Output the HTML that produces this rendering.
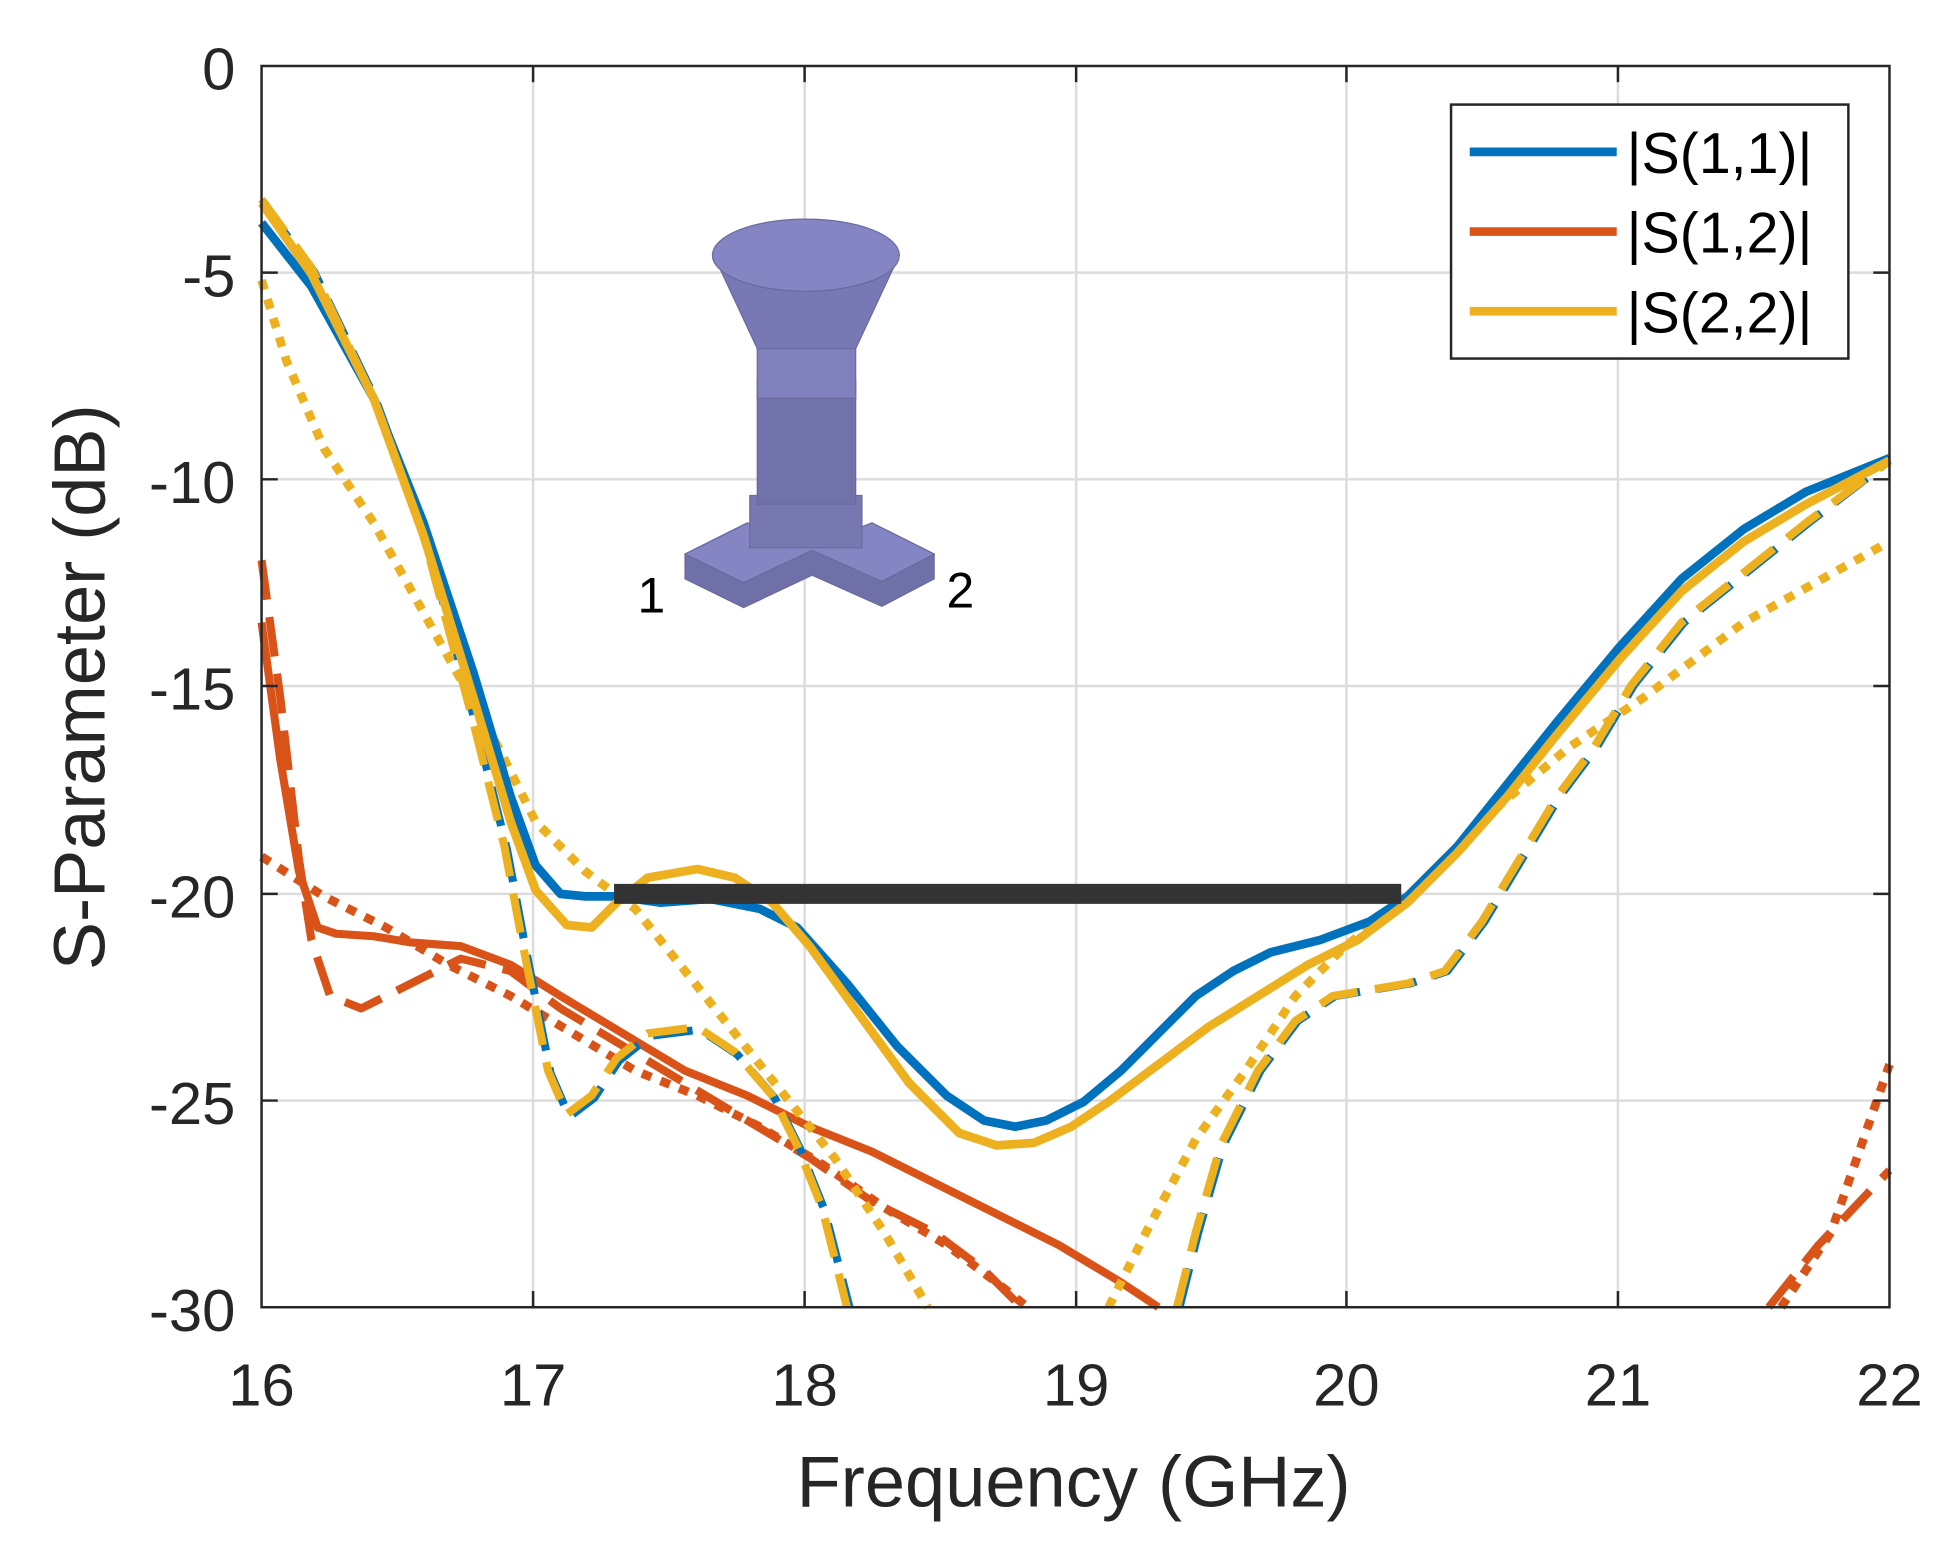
<!DOCTYPE html>
<html><head><meta charset="utf-8"><style>html,body{margin:0;padding:0;background:#fff}svg{display:block}</style></head>
<body>
<svg width="1953" height="1550" viewBox="0 0 1568 1245" preserveAspectRatio="none" xmlns="http://www.w3.org/2000/svg" font-family="Liberation Sans, sans-serif">
<rect width="1568" height="1245" fill="#fff"/>
<g stroke="#dcdcdc" stroke-width="2">
<line x1="428" y1="53" x2="428" y2="1050"/><line x1="646" y1="53" x2="646" y2="1050"/><line x1="864" y1="53" x2="864" y2="1050"/><line x1="1081" y1="53" x2="1081" y2="1050"/><line x1="1299" y1="53" x2="1299" y2="1050"/>
<line x1="210" y1="219" x2="1517" y2="219"/><line x1="210" y1="385" x2="1517" y2="385"/><line x1="210" y1="551" x2="1517" y2="551"/><line x1="210" y1="718" x2="1517" y2="718"/><line x1="210" y1="884" x2="1517" y2="884"/>
</g>
<g fill="none" stroke-linejoin="round" stroke-linecap="butt">
<polyline stroke="#d95319" stroke-width="7" stroke-dasharray="8,8" points="210,688 260,720 310,745 360,775 410,800 460,830 510,860 560,880 610,905 660,935 710,970 760,1000 800,1030 825,1050"/>
<polyline stroke="#d95319" stroke-width="7" stroke-dasharray="8,8" points="1430,1050 1470,990 1517,855"/>
<polyline stroke="#d95319" stroke-width="6.5" stroke-dasharray="32,14" points="210,450 225,560 240,690 250,755 265,800 290,810 330,790 370,770 410,780 450,810 500,840 550,870 600,900 650,930 700,965 750,990 790,1020 820,1050"/>
<polyline stroke="#d95319" stroke-width="6.5" stroke-dasharray="32,14" points="1420,1050 1460,1000 1517,940"/>
<polyline stroke="#d95319" stroke-width="6.5" points="210,500 225,610 240,700 255,745 270,750 300,752 330,757 370,760 410,775 450,800 500,830 550,860 600,880 650,905 700,925 750,950 800,975 850,1000 900,1030 930,1050"/>
<polyline stroke="#0072bd" stroke-width="6.5" stroke-dasharray="32,14" points="212,165 252,218 302,322 342,432 382,582 407,682 422,762 442,862 457,897 477,882 497,852 522,832 562,827 592,847 622,882 642,922 662,972 682,1050"/>
<polyline stroke="#edb120" stroke-width="6.5" stroke-dasharray="32,14" points="210,160 250,215 300,320 340,430 380,580 405,680 420,760 440,860 455,895 475,880 495,850 520,830 560,825 590,845 620,880 640,920 660,970 680,1050"/>
<polyline stroke="#0072bd" stroke-width="6.5" stroke-dasharray="32,14" points="947,1050 962,990 982,920 1012,860 1042,820 1072,800 1102,795 1132,790 1162,780 1192,740 1222,690 1252,640 1282,600 1312,550 1352,500 1402,460 1452,420 1517,370"/>
<polyline stroke="#edb120" stroke-width="6.5" stroke-dasharray="32,14" points="945,1050 960,990 980,920 1010,860 1040,820 1070,800 1100,795 1130,790 1160,780 1190,740 1220,690 1250,640 1280,600 1310,550 1350,500 1400,460 1450,420 1517,370"/>
<polyline stroke="#edb120" stroke-width="7" stroke-dasharray="8,8" points="210,225 230,290 260,360 300,420 350,510 400,600 430,660 470,700 510,730 550,780 590,830 630,880 670,930 710,990 745,1050"/>
<polyline stroke="#edb120" stroke-width="7" stroke-dasharray="8,8" points="890,1050 920,990 960,915 1000,860 1040,800 1080,760 1120,730 1160,690 1200,650 1260,600 1320,560 1400,500 1517,435"/>
<polyline stroke="#0072bd" stroke-width="7" points="210,179 250,230 300,320 340,420 380,540 410,640 430,695 450,718 470,720 495,720 530,725 570,722 610,730 640,745 680,790 720,840 760,880 790,900 815,905 840,900 870,885 900,860 930,830 960,800 990,780 1020,765 1060,755 1100,740 1130,720 1170,680 1210,630 1250,580 1300,520 1350,465 1400,425 1450,395 1517,368"/>
<polyline stroke="#edb120" stroke-width="7" points="210,163 250,220 300,320 340,430 380,560 410,660 430,715 455,743 475,745 495,725 520,705 560,698 590,705 620,725 650,760 690,815 730,870 770,910 800,920 830,918 860,905 890,885 930,855 970,825 1010,800 1050,775 1090,755 1130,725 1170,685 1210,640 1250,590 1300,530 1350,475 1400,435 1450,405 1517,370"/>
</g>
<line x1="493" y1="718" x2="1125" y2="718" stroke="#333" stroke-width="16"/>
<g stroke="#6a6aa0" stroke-width="1">
<polygon points="550,445 600,420 650,440 700,420 750,445 750,465 708,487 652,462 597,488 550,465" fill="#7070a8"/>
<polygon points="550,445 600,420 650,440 700,420 750,445 708,467 652,442 597,468" fill="#8585c4"/>
<rect x="602" y="398" width="90" height="42" fill="#7878b0"/>
<rect x="608" y="305" width="79" height="100" fill="#7272aa"/>
<rect x="608" y="275" width="79" height="45" fill="#8080bc"/>
<polygon points="573,205 722,205 687,280 608,280" fill="#7878b4"/>
<ellipse cx="647" cy="205" rx="75" ry="29" fill="#8585c4"/>
</g>
<text x="523" y="492" font-size="40" text-anchor="middle" fill="#000">1</text>
<text x="771" y="488" font-size="40" text-anchor="middle" fill="#000">2</text>
<rect x="210" y="53" width="1307" height="997" fill="none" stroke="#262626" stroke-width="2"/>
<g stroke="#262626" stroke-width="2">
<line x1="428" y1="1050" x2="428" y2="1037"/><line x1="646" y1="1050" x2="646" y2="1037"/><line x1="864" y1="1050" x2="864" y2="1037"/><line x1="1081" y1="1050" x2="1081" y2="1037"/><line x1="1299" y1="1050" x2="1299" y2="1037"/>
<line x1="428" y1="53" x2="428" y2="66"/><line x1="646" y1="53" x2="646" y2="66"/><line x1="864" y1="53" x2="864" y2="66"/><line x1="1081" y1="53" x2="1081" y2="66"/><line x1="1299" y1="53" x2="1299" y2="66"/>
<line x1="210" y1="219" x2="223" y2="219"/><line x1="210" y1="385" x2="223" y2="385"/><line x1="210" y1="551" x2="223" y2="551"/><line x1="210" y1="718" x2="223" y2="718"/><line x1="210" y1="884" x2="223" y2="884"/>
<line x1="1517" y1="219" x2="1504" y2="219"/><line x1="1517" y1="385" x2="1504" y2="385"/><line x1="1517" y1="551" x2="1504" y2="551"/><line x1="1517" y1="718" x2="1504" y2="718"/><line x1="1517" y1="884" x2="1504" y2="884"/>
</g>
<g font-size="48" fill="#262626" text-anchor="end">
<text x="189" y="72">0</text><text x="189" y="238">-5</text><text x="189" y="404">-10</text><text x="189" y="570">-15</text><text x="189" y="737">-20</text><text x="189" y="903">-25</text><text x="189" y="1069">-30</text>
</g>
<g font-size="48" fill="#262626" text-anchor="middle">
<text x="210" y="1129">16</text><text x="428" y="1129">17</text><text x="646" y="1129">18</text><text x="864" y="1129">19</text><text x="1081" y="1129">20</text><text x="1299" y="1129">21</text><text x="1517" y="1129">22</text>
</g>
<text x="862" y="1210" font-size="58" fill="#262626" text-anchor="middle">Frequency (GHz)</text>
<text transform="translate(84,552) rotate(-90)" font-size="58" fill="#262626" text-anchor="middle">S-Parameter (dB)</text>
<rect x="1165" y="84" width="319" height="204" fill="#fff" stroke="#262626" stroke-width="2"/>
<line x1="1180" y1="122" x2="1298" y2="122" stroke="#0072bd" stroke-width="7"/>
<line x1="1180" y1="186" x2="1298" y2="186" stroke="#d95319" stroke-width="7"/>
<line x1="1180" y1="250" x2="1298" y2="250" stroke="#edb120" stroke-width="7"/>
<g font-size="46" fill="#000">
<text x="1306" y="139">|S(1,1)|</text><text x="1306" y="203">|S(1,2)|</text><text x="1306" y="267">|S(2,2)|</text>
</g>
</svg>
</body></html>
